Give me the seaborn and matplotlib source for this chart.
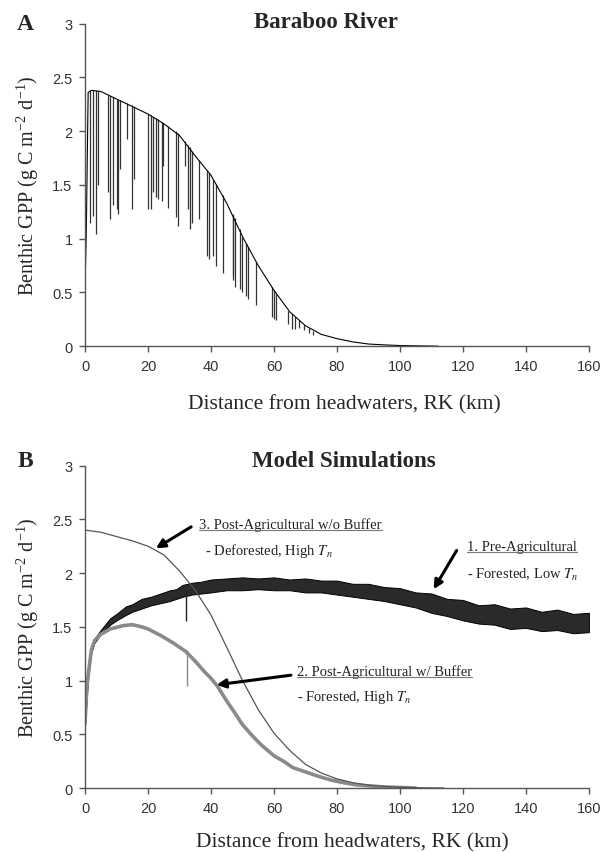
import matplotlib
matplotlib.use("Agg")
import matplotlib.pyplot as plt
import numpy as np
import pandas as pd
import seaborn as sns
from matplotlib.lines import Line2D
from matplotlib.ticker import FormatStrFormatter

sns.set_style("ticks")
plt.rcParams['font.family'] = ['Liberation Sans', 'DejaVu Sans']
plt.rcParams['mathtext.fontset'] = 'stix'

# ---- panel A : Baraboo River (envelope + local dips) ----
a_env_km = [0, 0.4, 1.0, 2, 5, 10, 15, 20, 25, 30, 35, 40, 45, 50, 55, 60,
            65, 70, 75, 80, 85, 90, 95, 100, 105, 112]
a_env_gpp = [0.55, 1.05, 2.36, 2.38, 2.37, 2.30, 2.23, 2.16, 2.07, 1.96, 1.77,
             1.59, 1.33, 1.02, 0.75, 0.52, 0.32, 0.19, 0.11, 0.07, 0.04, 0.02,
             0.012, 0.006, 0.003, 0.0]

dip_km = [1.6, 2.6, 3.5, 4.2, 7.4, 7.9, 8.8, 10.0, 10.6, 11.1, 13.2, 14.8, 15.6,
          20.1, 20.8, 21.7, 22.5, 23.3, 24.3, 24.9, 26.5, 28.9, 29.5, 31.7,
          32.8, 33.3, 33.9, 36.3, 38.8, 39.5, 40.7, 41.6, 43.7, 46.9, 47.1,
          47.6, 49.2, 50.0, 51.1, 51.8, 54.3, 59.3, 60.0, 60.6, 64.5, 65.6,
          66.7, 68.0, 69.5, 71.0, 72.5]
dip_top = [2.38, 2.38, 2.38, 2.37, 2.34, 2.33, 2.32, 2.30, 2.29, 2.29, 2.26,
           2.24, 2.23, 2.16, 2.15, 2.13, 2.12, 2.11, 2.09, 2.08, 2.05, 2.00,
           1.98, 1.91, 1.87, 1.85, 1.82, 1.73, 1.64, 1.61, 1.55, 1.51, 1.41,
           1.23, 1.22, 1.19, 1.09, 1.02, 0.96, 0.92, 0.78, 0.55, 0.52, 0.49,
           0.33, 0.30, 0.27, 0.24, 0.20, 0.17, 0.14]
dip_low = [1.15, 1.21, 1.04, 1.50, 1.43, 1.18, 1.31, 1.28, 1.23, 1.65, 1.93,
           1.28, 1.56, 1.28, 1.28, 1.43, 1.39, 1.37, 1.35, 1.68, 1.29, 1.20,
           1.12, 1.68, 1.28, 1.09, 1.15, 1.18, 0.84, 0.81, 0.84, 0.75, 0.68,
           0.62, 0.66, 0.55, 0.53, 0.50, 0.47, 0.44, 0.38, 0.27, 0.25, 0.24,
           0.21, 0.16, 0.16, 0.17, 0.15, 0.12, 0.10]

# ---- panel B : model simulations ----
# 1. Pre-Agricultural (noisy band: lower / upper edges)
b1_km = [0, 1, 2, 3, 5, 8, 10, 13, 15, 18, 21, 24, 27, 29, 31, 34, 37, 40,
         45, 50, 55, 60, 65, 70, 75, 80, 85, 90, 95, 100, 105, 110, 115, 120,
         125, 130, 135, 140, 145, 150, 155, 160]
b1_upper = [0.62, 1.07, 1.30, 1.39, 1.47, 1.58, 1.62, 1.69, 1.71, 1.76, 1.78,
            1.81, 1.84, 1.85, 1.89, 1.91, 1.92, 1.94, 1.95, 1.96, 1.95, 1.96,
            1.94, 1.95, 1.93, 1.93, 1.90, 1.90, 1.87, 1.86, 1.82, 1.81, 1.76,
            1.75, 1.70, 1.71, 1.67, 1.68, 1.64, 1.66, 1.62, 1.63]
b1_lower = [0.58, 1.03, 1.26, 1.35, 1.43, 1.52, 1.56, 1.61, 1.64, 1.67, 1.70,
            1.72, 1.74, 1.76, 1.78, 1.80, 1.81, 1.82, 1.84, 1.84, 1.85, 1.84,
            1.84, 1.82, 1.82, 1.80, 1.78, 1.76, 1.74, 1.71, 1.68, 1.63, 1.60,
            1.56, 1.53, 1.52, 1.48, 1.49, 1.46, 1.47, 1.44, 1.45]

# 2. Post-Agricultural w/ Buffer
b2_km = [0, 0.5, 1, 2, 3, 5, 8, 12, 15, 18, 20, 24, 28, 32, 35, 38, 40, 42,
         45, 48, 50, 53, 56, 60, 63, 66, 70, 74, 78, 82, 86, 90, 95, 100, 105]
b2_gpp = [0.6, 0.9, 1.05, 1.28, 1.37, 1.43, 1.48, 1.51, 1.52, 1.50, 1.48, 1.42,
          1.35, 1.27, 1.18, 1.08, 1.02, 0.95, 0.81, 0.68, 0.59, 0.49, 0.40,
          0.30, 0.25, 0.19, 0.15, 0.11, 0.075, 0.05, 0.03, 0.02, 0.01, 0.005,
          0.0]

# 3. Post-Agricultural w/o Buffer
b3_km = [0, 5, 10, 15, 20, 25, 30, 35, 40, 45, 50, 55, 60, 65, 70, 75, 80,
         85, 90, 95, 100, 105, 114]
b3_gpp = [2.40, 2.38, 2.34, 2.30, 2.25, 2.17, 2.02, 1.84, 1.61, 1.31, 1.00,
          0.73, 0.51, 0.35, 0.22, 0.14, 0.085, 0.05, 0.027, 0.014, 0.007,
          0.003, 0.0]

# spikes near RK 32
spike_km = [32.0, 32.3]
spike_top = [1.83, 1.28]
spike_low = [1.55, 0.95]

ylab = r"Benthic GPP (g C m$^{\mathregular{-2}}$ d$^{\mathregular{-1}}$)"
xlab = "Distance from headwaters, RK (km)"
serif = ['Liberation Serif', 'DejaVu Serif']

fig = plt.figure(figsize=(6.16, 8.53), dpi=100)
axA = fig.add_axes([0.138, 0.593, 0.818, 0.378])
axB = fig.add_axes([0.138, 0.075, 0.818, 0.378])

# panel A
axA.vlines(dip_km, dip_low, dip_top, color='#333333', lw=0.9)
sns.lineplot(x=a_env_km, y=a_env_gpp, ax=axA, color='black', lw=0.8)

# panel B
axB.fill_between(b1_km, b1_lower, b1_upper, facecolor='#2a2a2a',
                 edgecolor='black', lw=0.7)
sns.lineplot(x=b2_km, y=b2_gpp, ax=axB, color='#8a8a8a', lw=2.6)
sns.lineplot(x=b3_km, y=b3_gpp, ax=axB, color='#555555', lw=0.9)
axB.vlines(spike_km, spike_low, spike_top, color=['#222222', '#8a8a8a'], lw=1.0)

for ax in (axA, axB):
    ax.set_xlim(0, 160)
    ax.set_ylim(0, 3)
    ax.set_xticks(range(0, 161, 20))
    ax.set_yticks([0, 0.5, 1, 1.5, 2, 2.5, 3])
    ax.yaxis.set_major_formatter(FormatStrFormatter('%g'))
    sns.despine(ax=ax)
    for s in ('left', 'bottom'):
        ax.spines[s].set_color('#555555')
        ax.spines[s].set_linewidth(1.0)
    ax.tick_params(direction='out', length=4, width=1.0, color='#555555',
                   labelsize=10.5, labelcolor='#333333', pad=5)
    ax.set_ylabel(ylab, family=serif, fontsize=14.5, va='center')
    ax.set_xlabel(xlab, family=serif, fontsize=15.5, va='center')
    ax.yaxis.set_label_coords(-0.113, 0.5)

axA.xaxis.set_label_coords(0.514, -0.180)
axB.xaxis.set_label_coords(0.530, -0.168)

fig.text(25 / 616, 1 - 25 / 853, "A", family=serif, fontsize=17,
         fontweight='bold', ha='center', va='center')
fig.text(25 / 616, 1 - 462 / 853, "B", family=serif, fontsize=17,
         fontweight='bold', ha='center', va='center')
fig.text(326 / 616, 1 - 23 / 853, "Baraboo River", family=serif, fontsize=16.5,
         fontweight='bold', ha='center', va='center')
fig.text(344 / 616, 1 - 462 / 853, "Model Simulations", family=serif,
         fontsize=16.5, fontweight='bold', ha='center', va='center')

# annotations in panel B
arrow = dict(arrowstyle='-|>', lw=2.2, color='black', mutation_scale=13,
             shrinkA=0, shrinkB=0)
axB.annotate('', xy=(22.5, 2.23), xytext=(33.7, 2.43), arrowprops=arrow)
axB.annotate('', xy=(110.7, 1.85), xytext=(118.0, 2.21), arrowprops=arrow)
axB.annotate('', xy=(41.8, 0.96), xytext=(65.4, 1.05), arrowprops=arrow)

heads = [(36.2, 2.46, "3. Post-Agricultural w/o Buffer"),
         (121.3, 2.25, "1. Pre-Agricultural"),
         (67.3, 1.09, "2. Post-Agricultural w/ Buffer")]
subs = [(38.1, 2.21, r"- Deforested, High $T_n$"),
        (121.3, 1.99, r"- Forested, Low $T_n$"),
        (67.3, 0.85, r"- Forested, High $T_n$")]
head_texts = []
for x, y, s in heads:
    head_texts.append(axB.text(x, y, s, family=serif, fontsize=10.5,
                               ha='left', va='center', color='#222222'))
for x, y, s in subs:
    axB.text(x, y, s, family=serif, fontsize=10.5, ha='left', va='center',
             color='#222222')

# underline the scenario headings
fig.canvas.draw()
r = fig.canvas.get_renderer()
inv = fig.transFigure.inverted()
for t in head_texts:
    bb = t.get_window_extent(r)
    (x0, y0), (x1, _) = inv.transform([(bb.x0, bb.y0 + 1), (bb.x1, bb.y0 + 1)])
    fig.add_artist(Line2D([x0, x1], [y0, y0], transform=fig.transFigure,
                          color='#777777', lw=0.8))

fig.savefig("out.png", dpi=100)
